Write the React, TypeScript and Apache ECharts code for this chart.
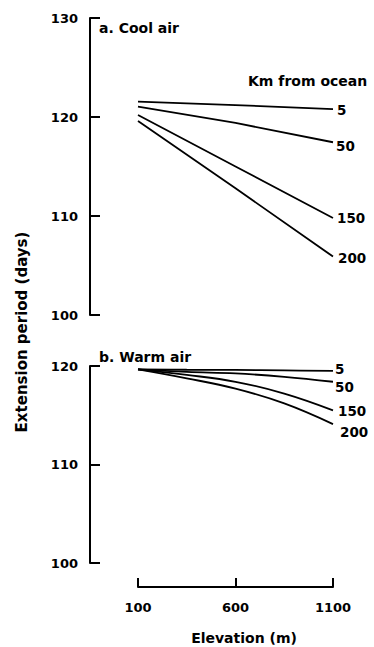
import React, { useEffect, useRef } from "react";
import * as echarts from "echarts";

const elevationCool = [100, 600, 1100];
const elevationWarm = [100, 350, 600, 850, 1100];
const kmLabels = ["5", "50", "150", "200"];

const cool5 = [121.55, 121.2, 120.8];
const cool50 = [121.05, 119.4, 117.45];
const cool150 = [120.2, 115.0, 109.8];
const cool200 = [119.6, 112.8, 105.9];

const warm5 = [119.66, 119.62, 119.6, 119.55, 119.5];
const warm50 = [119.66, 119.4, 119.25, 118.9, 118.4];
const warm150 = [119.66, 119.1, 118.4, 117.2, 115.5];
const warm200 = [119.66, 118.75, 117.7, 116.2, 114.1];

const yTicksCool = [100, 110, 120, 130];
const yTicksWarm = [100, 110, 120];
const xTicks = [100, 600, 1100];

const FONT = "DejaVu Sans";

const coolOffsets = [[-4, 1], [-5, 4], [-4, 0], [-3, 1]];
const warmOffsets = [[-6, -2], [-6, 5], [-3, 1], [-1, 8]];

export default function App() {
  const ref = useRef<HTMLDivElement>(null);
  useEffect(() => {
    if (!ref.current) return;
    const chart = echarts.init(ref.current, undefined, { renderer: "svg" });
    const coolSets = [cool5, cool50, cool150, cool200];
    const warmSets = [warm5, warm50, warm150, warm200];
    const mkSeries = (
      sets: number[][],
      xs: number[],
      idx: number,
      offsets: number[][],
      smooth: boolean
    ) =>
      sets.map((vals, i) => ({
        type: "line",
        xAxisIndex: idx,
        yAxisIndex: idx,
        name: kmLabels[i],
        data: vals.map((v, j) => [xs[j], v]),
        showSymbol: false,
        smooth: smooth ? 0.4 : false,
        lineStyle: { color: "#000", width: 1.8 },
        itemStyle: { color: "#000" },
        endLabel: {
          show: true,
          formatter: () => kmLabels[i],
          offset: offsets[i],
          color: "#000",
          fontFamily: FONT,
          fontWeight: "bold",
          fontSize: 13.5,
        },
        silent: true,
      }));

    const yAxisCommon = (min: number, max: number, grid: number) => ({
      type: "value",
      gridIndex: grid,
      min,
      max,
      interval: 10,
      offset: 48,
      axisLine: { show: true, lineStyle: { color: "#000", width: 2 } },
      axisTick: { show: true, inside: true, length: 10, lineStyle: { color: "#000", width: 2 } },
      axisLabel: {
        margin: 12,
        color: "#000",
        fontFamily: FONT,
        fontWeight: "bold",
        fontSize: 13,
        formatter: (v: number) =>
          (grid === 0 ? yTicksCool : yTicksWarm).includes(v) ? String(v) : "",
      },
      splitLine: { show: false },
    });

    chart.setOption({
      animation: false,
      backgroundColor: "#fff",
      grid: [
        { left: 138, right: 41, top: 18, height: 297 },
        { left: 138, right: 41, top: 366, height: 197 },
      ],
      xAxis: [
        { type: "value", gridIndex: 0, min: 100, max: 1100, show: false },
        {
          type: "value",
          gridIndex: 1,
          min: 100,
          max: 1100,
          interval: 500,
          offset: 24,
          axisLine: { show: true, lineStyle: { color: "#000", width: 2 } },
          axisTick: { show: true, inside: true, length: 9, lineStyle: { color: "#000", width: 2 } },
          axisLabel: {
            margin: 14,
            color: "#000",
            fontFamily: FONT,
            fontWeight: "bold",
            fontSize: 13,
            formatter: (v: number) => (xTicks.includes(v) ? String(v) : ""),
          },
          splitLine: { show: false },
        },
      ],
      yAxis: [yAxisCommon(100, 130, 0), yAxisCommon(100, 120, 1)],
      graphic: [
        {
          type: "text",
          left: 99,
          top: 21,
          style: { text: "a. Cool air", fontFamily: FONT, fontWeight: "bold", fontSize: 14, fill: "#000" },
        },
        {
          type: "text",
          left: 99,
          top: 350,
          style: { text: "b. Warm air", fontFamily: FONT, fontWeight: "bold", fontSize: 14, fill: "#000" },
        },
        {
          type: "text",
          left: 248,
          top: 74,
          style: { text: "Km from ocean", fontFamily: FONT, fontWeight: "bold", fontSize: 14, fill: "#000" },
        },
        {
          type: "text",
          x: 244,
          y: 638,
          style: {
            text: "Elevation (m)",
            fontFamily: FONT,
            fontWeight: "bold",
            fontSize: 14,
            fill: "#000",
            align: "center",
            verticalAlign: "middle",
          },
        },
        {
          type: "text",
          x: 22,
          y: 332,
          rotation: Math.PI / 2,
          style: {
            text: "Extension period (days)",
            fontFamily: FONT,
            fontWeight: "bold",
            fontSize: 15,
            fill: "#000",
            align: "center",
            verticalAlign: "middle",
          },
        },
      ],
      series: [
        ...mkSeries(coolSets, elevationCool, 0, coolOffsets, false),
        ...mkSeries(warmSets, elevationWarm, 1, warmOffsets, true),
      ],
    });
    return () => chart.dispose();
  }, []);
  return (
    <div
      ref={ref}
      style={{ position: "fixed", left: 0, top: 0, width: 374, height: 647 }}
    />
  );
}
